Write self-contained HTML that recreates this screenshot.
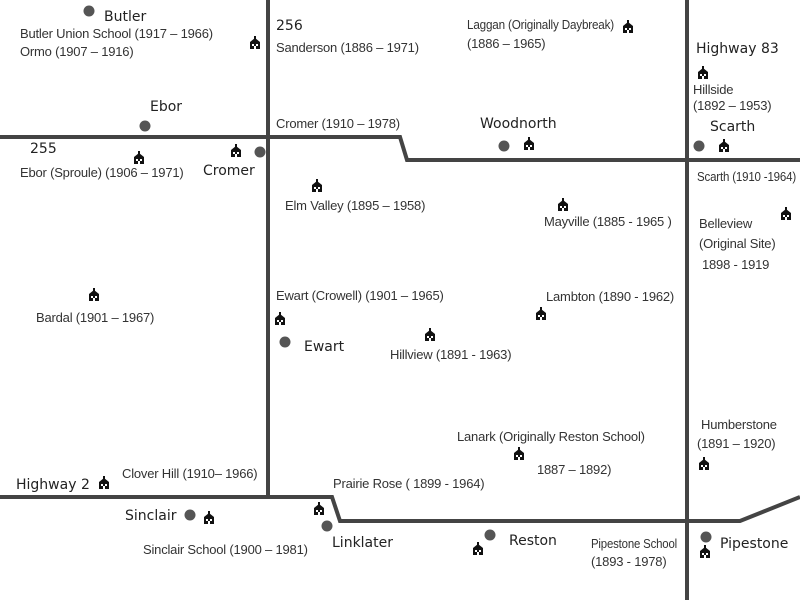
<!DOCTYPE html>
<html><head><meta charset="utf-8"><style>
html,body{margin:0;padding:0;background:#fff;}
svg{display:block}
.l{font-family:"Liberation Sans",sans-serif;font-size:13px;fill:#333;letter-spacing:-0.2px}
.t{font-family:"DejaVu Sans","Liberation Sans",sans-serif;font-size:14px;fill:#222}
</style></head><body>
<svg width="800" height="600" viewBox="0 0 800 600" xmlns="http://www.w3.org/2000/svg">
<defs>
<g id="s">
<path d="M0,-6 L-5,-2 L5,-2 Z" fill="#111"/>
<rect x="-1" y="-8" width="2" height="3" fill="#111"/>
<rect x="-5" y="-2" width="10" height="7" fill="#111"/>
<rect x="-3" y="0" width="2" height="2" fill="#fff"/>
<rect x="1" y="0" width="2" height="2" fill="#fff"/>
<rect x="-1" y="2" width="2" height="3" fill="#fff"/>
</g>
</defs>
<g stroke="#444" stroke-width="4" fill="none">
<line x1="268" y1="0" x2="268" y2="497"/>
<polyline points="0,137 400,137 407,160 800,160"/>
<line x1="687" y1="0" x2="687" y2="600"/>
<polyline points="0,497 332,497 340,521 740,521 800,497"/>
</g>
<g fill="#555">
<circle cx="89" cy="11" r="5.5"/>
<circle cx="145" cy="126" r="5.5"/>
<circle cx="260" cy="152" r="5.5"/>
<circle cx="504" cy="146" r="5.5"/>
<circle cx="699" cy="146" r="5.5"/>
<circle cx="285" cy="342" r="5.5"/>
<circle cx="190" cy="515" r="5.5"/>
<circle cx="327" cy="526" r="5.5"/>
<circle cx="490" cy="535" r="5.5"/>
<circle cx="706" cy="537" r="5.5"/>
</g>
<g>
<use href="#s" x="255" y="44"/>
<use href="#s" x="628" y="28"/>
<use href="#s" x="703" y="74"/>
<use href="#s" x="139" y="159"/>
<use href="#s" x="236" y="152"/>
<use href="#s" x="529" y="145"/>
<use href="#s" x="724" y="147"/>
<use href="#s" x="317" y="187"/>
<use href="#s" x="563" y="206"/>
<use href="#s" x="786" y="215"/>
<use href="#s" x="94" y="296"/>
<use href="#s" x="280" y="320"/>
<use href="#s" x="430" y="336"/>
<use href="#s" x="541" y="315"/>
<use href="#s" x="519" y="455"/>
<use href="#s" x="704" y="465"/>
<use href="#s" x="104" y="484"/>
<use href="#s" x="209" y="519"/>
<use href="#s" x="319" y="510"/>
<use href="#s" x="478" y="550"/>
<use href="#s" x="705" y="553"/>
</g>
<text class="t" x="104" y="21">Butler</text>
<text class="l" x="20" y="38">Butler Union School (1917 – 1966)</text>
<text class="l" x="20" y="56">Ormo (1907 – 1916)</text>
<text class="t" x="276" y="30">256</text>
<text class="l" x="276" y="52">Sanderson (1886 – 1971)</text>
<text class="l" x="467" y="29" textLength="147" lengthAdjust="spacingAndGlyphs">Laggan (Originally Daybreak)</text>
<text class="l" x="467" y="48">(1886 – 1965)</text>
<text class="t" x="696" y="53">Highway 83</text>
<text class="l" x="693" y="94">Hillside</text>
<text class="l" x="693" y="110">(1892 – 1953)</text>
<text class="t" x="710" y="131">Scarth</text>
<text class="t" x="150" y="111">Ebor</text>
<text class="l" x="276" y="128">Cromer (1910 – 1978)</text>
<text class="t" x="480" y="128">Woodnorth</text>
<text class="t" x="30" y="153">255</text>
<text class="l" x="20" y="177">Ebor (Sproule) (1906 – 1971)</text>
<text class="t" x="203" y="175">Cromer</text>
<text class="l" x="697" y="181" textLength="99" lengthAdjust="spacingAndGlyphs">Scarth (1910 -1964)</text>
<text class="l" x="285" y="210">Elm Valley  (1895 – 1958)</text>
<text class="l" x="544" y="226">Mayville (1885 - 1965 )</text>
<text class="l" x="699" y="228">Belleview</text>
<text class="l" x="699" y="248">(Original Site)</text>
<text class="l" x="702" y="269">1898 - 1919</text>
<text class="l" x="276" y="300">Ewart (Crowell) (1901 – 1965)</text>
<text class="l" x="546" y="301">Lambton (1890 -  1962)</text>
<text class="l" x="36" y="322">Bardal (1901 – 1967)</text>
<text class="t" x="304" y="351">Ewart</text>
<text class="l" x="390" y="359">Hillview (1891 - 1963)</text>
<text class="l" x="701" y="429">Humberstone</text>
<text class="l" x="697" y="448">(1891 – 1920)</text>
<text class="l" x="457" y="441">Lanark (Originally Reston School)</text>
<text class="l" x="537" y="474">1887 – 1892)</text>
<text class="l" x="122" y="478">Clover Hill (1910– 1966)</text>
<text class="t" x="16" y="489">Highway 2</text>
<text class="l" x="333" y="488">Prairie Rose ( 1899 - 1964)</text>
<text class="t" x="125" y="520">Sinclair</text>
<text class="t" x="332" y="547">Linklater</text>
<text class="t" x="509" y="545">Reston</text>
<text class="l" x="591" y="548" textLength="86" lengthAdjust="spacingAndGlyphs">Pipestone School</text>
<text class="l" x="591" y="566">(1893 - 1978)</text>
<text class="t" x="720" y="548">Pipestone</text>
<text class="l" x="143" y="554">Sinclair School (1900 – 1981)</text>
</svg>
</body></html>
